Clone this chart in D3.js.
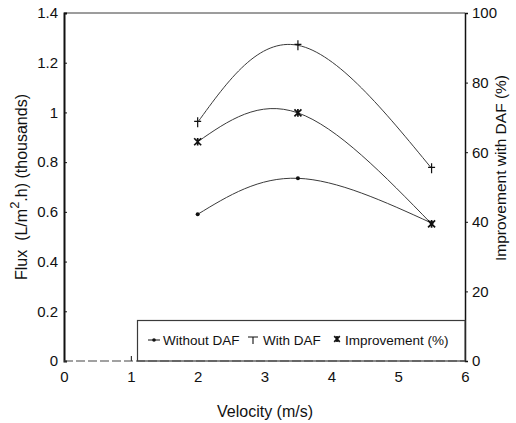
<!DOCTYPE html>
<html>
<head>
<meta charset="utf-8">
<script src="https://cdn.jsdelivr.net/npm/d3@7"></script>
<style>
  html, body { margin: 0; padding: 0; background: #fff; }
  svg { display: block; font-family: "Liberation Sans", Arial, Helvetica, sans-serif; }
</style>
</head>
<body>
<svg id="chart" width="516" height="423"></svg>
<script>
// Cross-flow velocity (m/s)
const velocity = [2, 3.5, 5.5];
// Permeate flux, thousands of L/m².h
const fluxWithoutDAF = [0.59, 0.735, 0.555];
const fluxWithDAF = [0.96, 1.27, 0.775];
// Flux improvement with DAF pre-treatment (%)
const improvementPct = [63, 71.3, 39.4];

const xTicks = [0, 1, 2, 3, 4, 5, 6];
const yLeftTicks = [0, 0.2, 0.4, 0.6, 0.8, 1, 1.2, 1.4];
const yRightTicks = [0, 20, 40, 60, 80, 100];
const legendLabels = ["Without DAF", "With DAF", "Improvement (%)"];

const svg = d3.select("#chart");
const ink = "#111";
const lineInk = "#3a3a3a";

const x = d3.scaleLinear().domain([0, 6]).range([64, 465]);
const yL = d3.scaleLinear().domain([0, 1.4]).range([361, 13]);
const yR = d3.scaleLinear().domain([0, 100]).range([361, 13]);

// Frame: top edge
svg.append("line").attr("x1", x(0)).attr("x2", x(6)).attr("y1", yL(1.4)).attr("y2", yL(1.4))
  .attr("stroke", lineInk).attr("stroke-width", 1);

function styleTicks(g) {
  g.selectAll(".tick line").attr("stroke", ink);
  g.selectAll(".tick text").attr("font-size", 15).attr("fill", ink)
    .attr("font-family", "Liberation Sans, Arial, sans-serif");
}

// Left axis
const leftAxis = d3.axisLeft(yL).tickValues(yLeftTicks).tickSize(-3).tickPadding(6)
  .tickFormat(d => d3.format("~g")(d));
const gL = svg.append("g").attr("transform", `translate(${x(0)},0)`).call(leftAxis);
gL.select(".domain").attr("stroke", ink).attr("stroke-width", 2);
styleTicks(gL);

// Right axis
const rightAxis = d3.axisRight(yR).tickValues(yRightTicks).tickSize(3).tickPadding(4);
const gR = svg.append("g").attr("transform", `translate(${x(6)},0)`).call(rightAxis);
gR.select(".domain").attr("stroke", ink).attr("stroke-width", 1.5);
styleTicks(gR);

// Bottom axis
const bottomAxis = d3.axisBottom(x).tickValues(xTicks).tickSize(-5).tickPadding(10)
  .tickFormat(d3.format("d"));
const gB = svg.append("g").attr("transform", `translate(0,${yL(0)})`).call(bottomAxis);
gB.select(".domain").attr("stroke", "none");
styleTicks(gB);

// Axis titles
svg.append("text").attr("x", 265).attr("y", 417).attr("text-anchor", "middle")
  .attr("font-size", 16).attr("fill", ink).text("Velocity (m/s)");

const leftTitle = svg.append("text")
  .attr("transform", "translate(27,187) rotate(-90)")
  .attr("text-anchor", "middle").attr("font-size", 16).attr("fill", ink)
  .attr("xml:space", "preserve");
leftTitle.append("tspan").text("Flux  (L/m");
leftTitle.append("tspan").attr("dy", -8).attr("font-size", 13).text("2");
leftTitle.append("tspan").attr("dy", 8).text(".h) (thousands)");

svg.append("text")
  .attr("transform", "translate(506,168) rotate(-90)")
  .attr("text-anchor", "middle").attr("font-size", 15.5).attr("fill", ink)
  .text("Improvement with DAF (%)");

// Series curves
const series = [
  { values: fluxWithoutDAF, y: yL, marker: "dot" },
  { values: fluxWithDAF, y: yL, marker: "plus" },
  { values: improvementPct, y: yR, marker: "star" }
];

function drawMarker(g, type, cx, cy, s) {
  if (type === "dot") {
    g.append("circle").attr("cx", cx).attr("cy", cy).attr("r", 2 * s).attr("fill", ink);
  } else if (type === "plus") {
    g.append("path")
      .attr("d", `M${cx},${cy - 5 * s}V${cy + 5 * s}M${cx - 3.5 * s},${cy - 1 * s}H${cx + 3.5 * s}`)
      .attr("stroke", ink).attr("stroke-width", 1.2).attr("fill", "none");
  } else {
    const r = 3.5 * s;
    g.append("path")
      .attr("d", `M${cx - r},${cy - r}L${cx + r},${cy + r}M${cx - r},${cy + r}L${cx + r},${cy - r}M${cx},${cy - r * 1.1}V${cy + r * 1.1}`)
      .attr("stroke", ink).attr("stroke-width", 1.7).attr("fill", "none");
  }
}

const line = d3.line().curve(d3.curveNatural);
const gS = svg.append("g");
series.forEach(s => {
  const pts = velocity.map((v, i) => [x(v), s.y(s.values[i])]);
  gS.append("path").attr("d", line(pts)).attr("fill", "none")
    .attr("stroke", lineInk).attr("stroke-width", 1);
  pts.forEach(p => drawMarker(gS, s.marker, p[0], p[1], 1));
});

// Legend
const leg = svg.append("g");
leg.append("rect").attr("x", 137.5).attr("y", 320.5).attr("width", x(6) - 137.5).attr("height", yL(0) - 320.5)
  .attr("fill", "#fff").attr("stroke", lineInk).attr("stroke-width", 1.2);
const legX = [148, 248, 332];
legendLabels.forEach((lab, i) => {
  const mk = series[i].marker;
  if (mk === "dot") {
    leg.append("line").attr("x1", legX[i]).attr("x2", legX[i] + 12).attr("y1", 340).attr("y2", 340)
      .attr("stroke", ink).attr("stroke-width", 1);
    drawMarker(leg, mk, legX[i] + 6, 340, 0.9);
  } else if (mk === "plus") {
    leg.append("path").attr("d", `M${legX[i]},337H${legX[i] + 10}M${legX[i] + 5},337V344`)
      .attr("stroke", ink).attr("stroke-width", 1.1);
  } else {
    drawMarker(leg, mk, legX[i] + 5, 339, 0.8);
  }
  leg.append("text").attr("x", legX[i] + (mk === "star" ? 13 : 15)).attr("y", 345)
    .attr("font-size", 13.5).attr("fill", ink).text(lab);
});

// X axis baseline, drawn over the legend box edge
svg.append("line").attr("x1", x(0)).attr("x2", x(6)).attr("y1", yL(0)).attr("y2", yL(0))
  .attr("stroke", "#444").attr("stroke-width", 1.2).attr("stroke-dasharray", "9,3");
</script>
</body>
</html>
